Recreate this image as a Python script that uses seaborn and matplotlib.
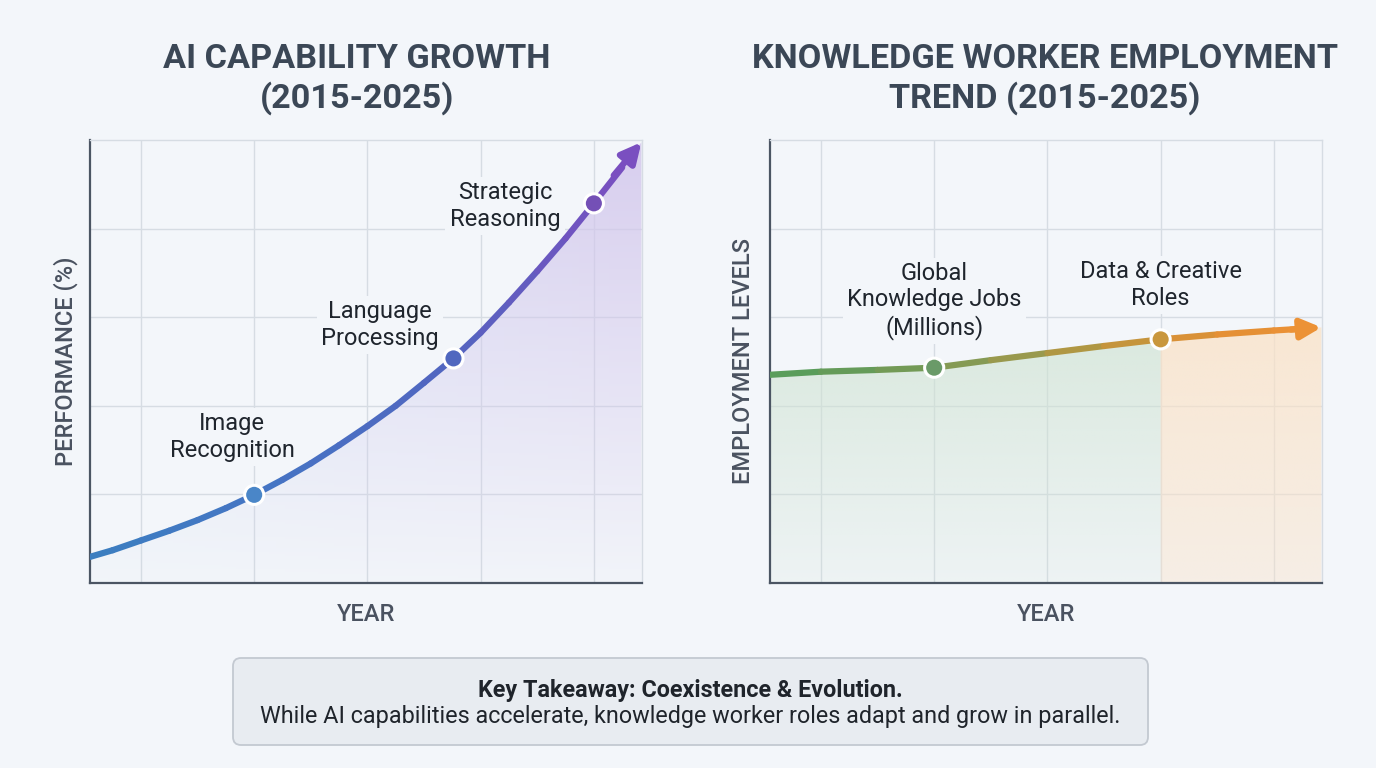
import numpy as np
import matplotlib.pyplot as plt
import seaborn as sns
from matplotlib.colors import LinearSegmentedColormap, to_rgba
from matplotlib.patches import FancyBboxPatch

# ---- data ----
years_ai = [2015.1, 2015.5, 2016, 2016.5, 2017, 2017.5, 2018, 2018.5, 2019, 2019.5, 2020,
            2020.5, 2021, 2021.52, 2022, 2022.5, 2023, 2023.5, 2024, 2024.5]
perf_ai = [5.9, 7.4, 9.6, 11.8, 14.2, 16.9, 19.9, 23.3, 27.0, 31.1, 35.4,
           40.0, 45.2, 50.7, 56.5, 63.3, 70.4, 77.8, 85.7, 93.8]
ai_tip = (2024.84, 99.5)
ai_milestone_years = [2018, 2021.52, 2024]
ai_milestone_vals = [19.9, 50.7, 85.7]
ai_labels = ['Image\nRecognition', 'Language\nProcessing', 'Strategic\nReasoning']
ai_label_x = [2017.61, 2020.22, 2022.43]
ai_label_y = [33.0, 58.2, 85.1]

years_emp = [2015.1, 2016, 2017, 2018, 2019, 2020, 2021, 2022, 2023, 2024, 2024.5]
emp = [47.0, 47.7, 48.1, 48.6, 50.3, 51.9, 53.5, 55.0, 56.1, 57.0, 57.4]
emp_tip = (2024.84, 57.7)
emp_milestone_years = [2018, 2022]
emp_milestone_vals = [48.6, 55.0]
emp_labels = ['Global\nKnowledge Jobs\n(Millions)', 'Data & Creative\nRoles']
emp_label_x = [2018, 2022]
emp_label_y = [63.7, 67.3]

grid_years = [2016, 2018, 2020, 2022, 2024]
grid_levels = [20, 40, 60, 80]

BG = '#f3f6fa'
GRID = '#d6dce3'
SPINE = '#4b5563'
TXT = '#3b4756'

sns.set_theme(style='white')
plt.rcParams['font.family'] = ['Roboto', 'DejaVu Sans']

fig = plt.figure(figsize=(13.76, 7.68), dpi=100, facecolor=BG)
ax1 = fig.add_axes([90/1376, 185/768, 552/1376, 443/768])
ax2 = fig.add_axes([770/1376, 185/768, 552/1376, 443/768])


def style_axes(ax, ylabel, ypad):
    ax.set_facecolor(BG)
    ax.set_xlim(2015.1, 2024.85)
    ax.set_ylim(0, 100)
    ax.set_xticks(grid_years)
    ax.set_yticks(grid_levels)
    ax.set_xticklabels([])
    ax.set_yticklabels([])
    ax.tick_params(length=0)
    ax.grid(True, color=GRID, lw=1)
    ax.set_axisbelow(True)
    for s in ['top', 'right']:
        ax.spines[s].set_color(GRID)
        ax.spines[s].set_linewidth(1)
    for s in ['left', 'bottom']:
        ax.spines[s].set_color(SPINE)
        ax.spines[s].set_linewidth(1.6)
    ax.set_xlabel('YEAR', fontsize=17, color='#4a5260', fontweight='medium', labelpad=11)
    ax.set_ylabel(ylabel, fontsize=17, color='#4a5260', fontweight='medium', labelpad=ypad)


def gradient_fill(ax, x, y, color_fn, alpha_fn):
    poly = ax.fill_between(x, y, 0, color='none', lw=0)
    xs = np.linspace(2015.1, 2024.85, 400)
    ys = np.linspace(0, 100, 200)
    img = np.zeros((len(ys), len(xs), 4))
    for j, xv in enumerate(xs):
        img[:, j, :3] = color_fn(xv)
        img[:, j, 3] = alpha_fn(xv, ys)
    im = ax.imshow(img, extent=[2015.1, 2024.85, 0, 100], origin='lower',
                   aspect='auto', zorder=1, interpolation='bilinear')
    im.set_clip_path(poly.get_paths()[0], transform=ax.transData)


def gradient_line(ax, x, y, cmap):
    n = len(x) - 1
    for i in range(n):
        c = cmap((i + 0.5) / n)
        sns.lineplot(x=[x[i], x[i + 1]], y=[y[i], y[i + 1]], ax=ax, color=c,
                     lw=4.5, solid_capstyle='round', zorder=3)


# ---- left panel ----
ai_cmap = LinearSegmentedColormap.from_list('ai', ['#3b7fc0', '#4575c4', '#5166c0', '#7a4fc0'])
fill_ai_cmap = LinearSegmentedColormap.from_list('aif', ['#d3e0f3', '#d2cff0', '#d3c6ec'])
gradient_fill(ax1, years_ai + [ai_tip[0]], perf_ai + [ai_tip[1]],
              lambda xv: to_rgba(fill_ai_cmap((xv - 2015.1) / 9.75))[:3],
              lambda xv, ys: 0.04 + 0.8 * (ys / 100) ** 1.0)
gradient_line(ax1, years_ai, perf_ai, ai_cmap)
ax1.annotate('', xy=ai_tip, xytext=(2024.35, 92.0), annotation_clip=False,
             arrowprops=dict(arrowstyle='-|>', color='#7a4fc0', lw=4.5,
                             mutation_scale=30, shrinkA=0, shrinkB=0), zorder=4)
sns.scatterplot(x=ai_milestone_years, y=ai_milestone_vals, ax=ax1,
                color=['#4a86c8', '#5067bf', '#7450b6'], s=190,
                edgecolor='white', linewidth=2.2, zorder=5)
for lab, lx, ly in zip(ai_labels, ai_label_x, ai_label_y):
    ax1.text(lx, ly, lab, ha='center', va='center', fontsize=17, color='#1f252d',
             linespacing=1.2, zorder=2,
             bbox=dict(facecolor=BG, edgecolor='none', pad=3))
style_axes(ax1, 'PERFORMANCE (%)', 5)

# ---- right panel ----
emp_cmap = LinearSegmentedColormap.from_list('emp', ['#559e5c', '#6a9a58', '#8e9a52', '#bb963e', '#e28f35', '#ec9236'])
gradient_line(ax2, years_emp, emp, emp_cmap)
gradient_fill(ax2, years_emp + [emp_tip[0]], emp + [emp_tip[1]],
              lambda xv: to_rgba('#cfe3d2')[:3] if xv < 2022 else to_rgba('#fbe2c6')[:3],
              lambda xv, ys: (0.15 + 0.55 * ys / 58) if xv < 2022 else (0.4 + 0.35 * ys / 58))
ax2.annotate('', xy=emp_tip, xytext=(2024.3, 57.2), annotation_clip=False,
             arrowprops=dict(arrowstyle='-|>', color='#ec9236', lw=4.5,
                             mutation_scale=30, shrinkA=0, shrinkB=0), zorder=4)
sns.scatterplot(x=emp_milestone_years, y=emp_milestone_vals, ax=ax2,
                color=['#6a9a68', '#c9973d'], s=190,
                edgecolor='white', linewidth=2.2, zorder=5)
for lab, lx, ly in zip(emp_labels, emp_label_x, emp_label_y):
    ax2.text(lx, ly, lab, ha='center', va='center', fontsize=17, color='#1f252d',
             linespacing=1.2, zorder=2,
             bbox=dict(facecolor=BG, edgecolor='none', pad=3))
style_axes(ax2, 'EMPLOYMENT LEVELS', 7)

# ---- titles ----
fig.text(357/1376, 1 - 79/768, 'AI CAPABILITY GROWTH\n(2015-2025)', ha='center', va='center',
         fontsize=24.7, fontweight='bold', color=TXT, linespacing=1.25)
fig.text(1045/1376, 1 - 79/768, 'KNOWLEDGE WORKER EMPLOYMENT\nTREND (2015-2025)', ha='center',
         va='center', fontsize=24.7, fontweight='bold', color=TXT, linespacing=1.25)

# ---- takeaway box ----
box = FancyBboxPatch((2.33, 0.23), 9.15, 0.87, boxstyle='round,pad=0,rounding_size=0.08',
                     transform=fig.dpi_scale_trans, facecolor='#e8ecf1', edgecolor='#c3c9d1', lw=1.3)
fig.add_artist(box)
fig.text(690/1376, 1 - 690/768, 'Key Takeaway: Coexistence & Evolution.', ha='center', va='center',
         fontsize=16.8, fontweight='bold', color='#1f242b')
fig.text(690/1376, 1 - 716/768, 'While AI capabilities accelerate, knowledge worker roles adapt and grow in parallel.',
         ha='center', va='center', fontsize=16.8, color='#1f242b')

fig.savefig('out.png', dpi=100, facecolor=BG)
